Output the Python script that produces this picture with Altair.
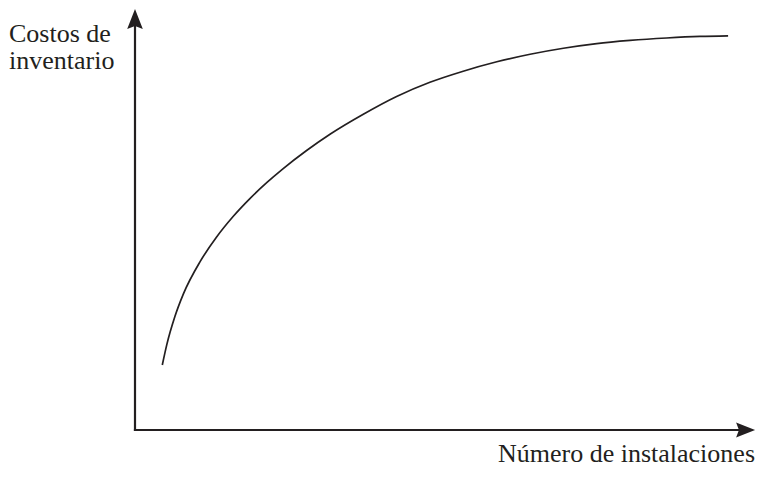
import altair as alt
import pandas as pd

# ---- data ----
instalaciones = [0.91, 1.06, 1.33, 1.61, 2.17, 2.72, 3.27, 3.83, 4.39, 4.93, 5.72, 6.5,
                 7.61, 8.72, 9.83, 10.94, 12.06, 13.17, 14.28, 15.39, 16.5, 17.72, 18.83, 19.77]
costos = [16.25, 21.35, 28.37, 33.97, 42.09, 48.25, 53.37, 57.85, 61.83, 65.29, 69.87, 73.93,
          78.93, 83.37, 86.92, 89.7, 92.05, 93.94, 95.44, 96.61, 97.39, 98.0, 98.39, 98.53]
y_label_lines = ["Costos de", "inventario"]
x_label = "Número de instalaciones"

# axis extents (data units)
x_axis_tip = [20.67]
y_axis_tip = [105.25]
x_rule_end = [20.25]
y_rule_end = [101.5]

INK = "#231f20"
FONT = "Liberation Serif"

xs = alt.Scale(domain=[0, 20.7], nice=False, zero=False)
ys = alt.Scale(domain=[0, 105.25], nice=False, zero=False)

df = pd.DataFrame({"instalaciones": instalaciones, "costos": costos})

curve = alt.Chart(df).mark_line(color=INK, strokeWidth=1.7, interpolate="monotone").encode(
    x=alt.X("instalaciones:Q", scale=xs, axis=None),
    y=alt.Y("costos:Q", scale=ys, axis=None),
)

x_rule = alt.Chart(pd.DataFrame({"x": [0], "x2": x_rule_end, "y": [0]})).mark_rule(
    color=INK, strokeWidth=2.2, strokeCap="square").encode(
    x=alt.X("x:Q", scale=xs, axis=None), x2="x2:Q", y=alt.Y("y:Q", scale=ys, axis=None))

y_rule = alt.Chart(pd.DataFrame({"x": [0], "y": [0], "y2": y_rule_end})).mark_rule(
    color=INK, strokeWidth=2.2, strokeCap="square").encode(
    x=alt.X("x:Q", scale=xs, axis=None), y=alt.Y("y:Q", scale=ys, axis=None), y2="y2:Q")

x_arrow = alt.Chart(pd.DataFrame({"x": x_axis_tip, "y": [0]})).mark_point(
    shape="M0,0L-2,-0.78L-1.7,0L-2,0.78Z", filled=True, size=361, color=INK,
    opacity=1, strokeWidth=0).encode(
    x=alt.X("x:Q", scale=xs, axis=None), y=alt.Y("y:Q", scale=ys, axis=None))

y_arrow = alt.Chart(pd.DataFrame({"x": [0], "y": y_axis_tip})).mark_point(
    shape="M0,0L-0.78,2L0,1.7L0.78,2Z", filled=True, size=400, color=INK,
    opacity=1, strokeWidth=0).encode(
    x=alt.X("x:Q", scale=xs, axis=None), y=alt.Y("y:Q", scale=ys, axis=None))

one = pd.DataFrame({"k": [0]})
y_title = alt.Chart(one).mark_text(font=FONT, fontSize=26, color=INK, align="left",
                                   baseline="alphabetic", lineHeight=27).encode(
    x=alt.value(-126), y=alt.value(33), text=alt.value(y_label_lines))

x_title = alt.Chart(one).mark_text(font=FONT, fontSize=26, color=INK, align="right",
                                   baseline="alphabetic").encode(
    x=alt.value(620), y=alt.value(453), text=alt.value(x_label))

chart = alt.layer(x_rule, y_rule, x_arrow, y_arrow, curve, y_title, x_title).properties(
    width=621, height=421,
    autosize=alt.AutoSizeParams(type="none"),
    padding={"left": 127, "top": 1, "right": 0, "bottom": 34},
).configure_view(stroke=None)

chart.save("out.html", embed_options={"renderer": "svg", "actions": False})
